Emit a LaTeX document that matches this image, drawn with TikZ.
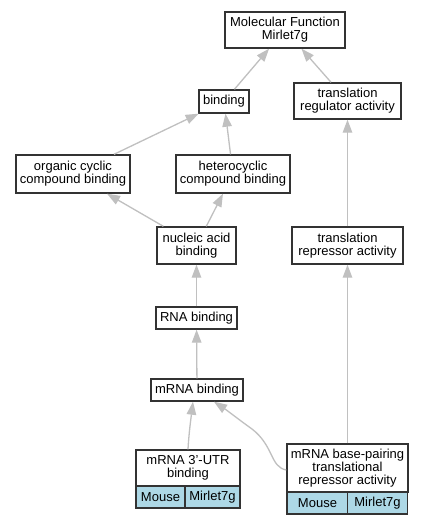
\documentclass[tikz,border=0pt]{standalone}
\usepackage{fontspec}
\setmainfont{Liberation Sans}
\usetikzlibrary{arrows.meta}
\definecolor{edgegray}{HTML}{C0C0C0}
\definecolor{cellblue}{HTML}{ADD8E6}
\definecolor{boxline}{HTML}{333333}
\begin{document}
\begin{tikzpicture}[x=1pt,y=-1pt,
  box/.style={draw=boxline, line width=1.4pt, fill=white, inner sep=0pt, align=center,
    font=\fontsize{13}{13.2}\selectfont},
  cell/.style={box, fill=cellblue},
  edge/.style={draw=edgegray, line width=1.3pt, -{Triangle[length=13pt,width=9.5pt]}}
]
\useasboundingbox (0,0) rectangle (423,525);
\fill[white] (0,0) rectangle (423,525);

\node[box, minimum width=120pt, minimum height=36pt] (mf) at (285,30) {Molecular Function\\Mirlet7g};
\node[box, minimum width=50pt, minimum height=23pt] (binding) at (224,101.5) {binding};
\node[box, minimum width=107pt, minimum height=36pt] (treg) at (347.5,101) {translation\\regulator activity};
\node[box, minimum width=114pt, minimum height=38pt] (organic) at (73,174) {organic cyclic\\compound binding};
\node[box, minimum width=114pt, minimum height=38pt] (hetero) at (233,174) {heterocyclic\\compound binding};
\node[box, minimum width=79pt, minimum height=37pt] (nucleic) at (196.5,245.5) {nucleic acid\\binding};
\node[box, minimum width=111pt, minimum height=37pt] (trep) at (347.5,245.5) {translation\\repressor activity};
\node[box, minimum width=81pt, minimum height=22pt] (rna) at (196.5,318) {RNA binding};
\node[box, minimum width=92pt, minimum height=22pt] (mrna) at (197,390) {mRNA binding};

\node[box, minimum width=104pt, minimum height=36pt] (utr) at (188,468) {mRNA 3'-UTR\\binding};
\node[cell, minimum width=49pt, minimum height=22pt] (utrmouse) at (160.5,497) {Mouse};
\node[cell, minimum width=55pt, minimum height=22pt] (utrgene) at (212.5,497) {Mirlet7g};

\node[box, minimum width=121pt, minimum height=48pt] (bp) at (347.5,468) {mRNA base-pairing\\translational\\repressor activity};
\node[cell, minimum width=61pt, minimum height=22pt] (bpmouse) at (317.5,503) {Mouse};
\node[cell, minimum width=60pt, minimum height=22pt] (bpgene) at (377.5,503) {Mirlet7g};

\draw[edge] (binding) -- (mf);
\draw[edge] (treg) -- (mf);
\draw[edge] (organic) -- (binding);
\draw[edge] (hetero) -- (binding);
\draw[edge] (nucleic) -- (organic);
\draw[edge] (nucleic) -- (hetero);
\draw[edge] (rna) -- (nucleic);
\draw[edge] (mrna) -- (rna);
\draw[edge] (trep) -- (treg);
\draw[edge] (bp) -- (trep);
\draw[edge] (utr.north) .. controls (189,432) and (191,418) .. ([xshift=-4pt]mrna.south);
\draw[edge] ([yshift=-2pt]bp.west) .. controls (270,467) and (274,446) .. (252,429) .. controls (238,419) and (228,411) .. ([xshift=17pt]mrna.south);
\end{tikzpicture}
\end{document}
